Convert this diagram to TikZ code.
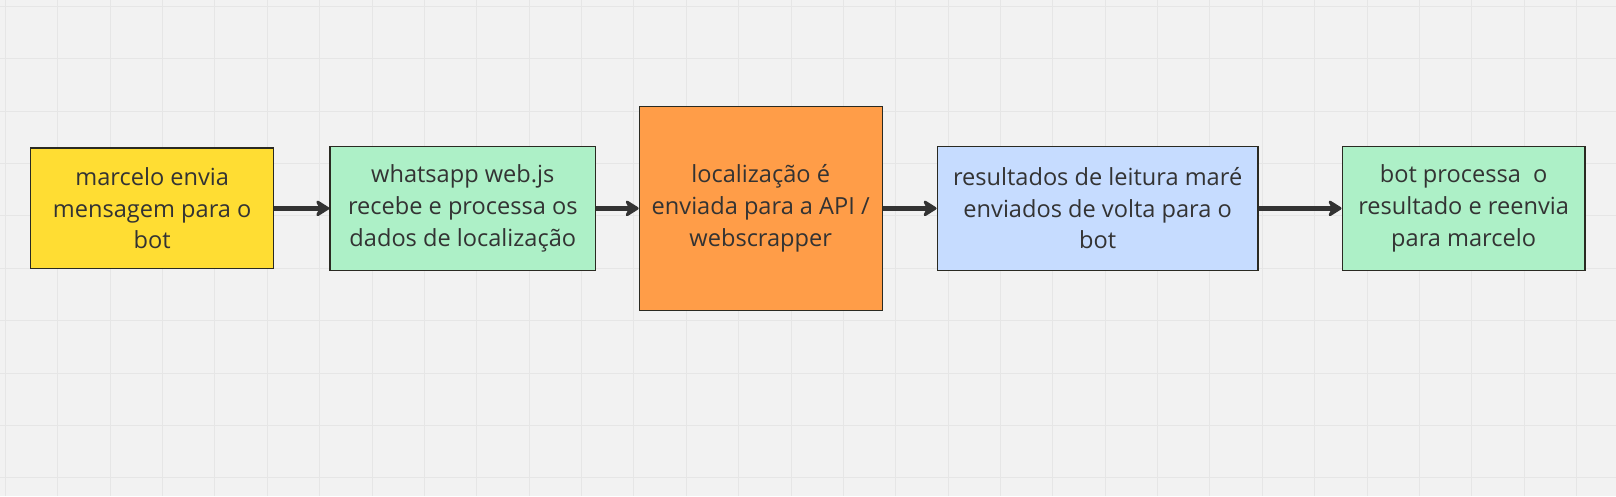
\documentclass[tikz,border=0pt]{standalone}
\usepackage{fontspec}
\setmainfont{Open Sans}
\usetikzlibrary{arrows.meta}
\definecolor{canvasgray}{HTML}{F2F2F2}
\definecolor{gridgray}{HTML}{E6E6E6}
\definecolor{boxline}{HTML}{2A2A22}
\definecolor{textdark}{HTML}{333333}
\definecolor{arrowdark}{HTML}{333333}
\definecolor{stickyyellow}{HTML}{FFDD33}
\definecolor{stickygreen}{HTML}{ADF0C7}
\definecolor{stickyorange}{HTML}{FF9D48}
\definecolor{stickyblue}{HTML}{C6DCFF}

\begin{document}
\begin{tikzpicture}[x=1pt,y=-1pt,
 box/.style={draw=boxline,line width=1.3pt,align=center,inner sep=0pt,
 text=textdark,font=\fontsize{23.6}{31.7}\selectfont},
 flow/.style={line width=4.5pt,draw=arrowdark,
 -{Stealth[length=16pt,width=20pt,inset=5pt,round]}}]
 \fill[canvasgray] (0,0) rectangle (1616,496);
 \foreach \gx in {5,57.4,...,1616} \draw[gridgray,line width=1pt] (\gx,0)--(\gx,496);
 \foreach \gy in {6,58.4,...,496} \draw[gridgray,line width=1pt] (0,\gy)--(1616,\gy);
 \node[box,fill=stickyyellow,minimum width=243pt,minimum height=121pt] (envia)
 at (151.8,208) {marcelo envia\\mensagem para o\\bot};
 \node[box,fill=stickygreen,minimum width=266pt,minimum height=124.5pt] (whatsapp)
 at (462.6,208) {whatsapp web.js\\recebe e processa os\\dados de localização};
 \node[box,fill=stickyorange,minimum width=243pt,minimum height=204pt] (api)
 at (760.7,208) {localização é\\enviada para a API /\\webscrapper};
 \node[box,fill=stickyblue,minimum width=321pt,minimum height=124.5pt] (mare)
 at (1097.8,208) {resultados de leitura maré\\enviados de volta para o\\bot};
 \node[box,fill=stickygreen,minimum width=243pt,minimum height=124.5pt] (reenvia)
 at (1464,208) {bot processa\ \ o\\resultado e reenvia\\para marcelo};
 \draw[flow] (envia)--(whatsapp);
 \draw[flow] (whatsapp)--(api);
 \draw[flow] (api)--(mare);
 \draw[flow] (mare)--(reenvia);
\end{tikzpicture}
\end{document}
